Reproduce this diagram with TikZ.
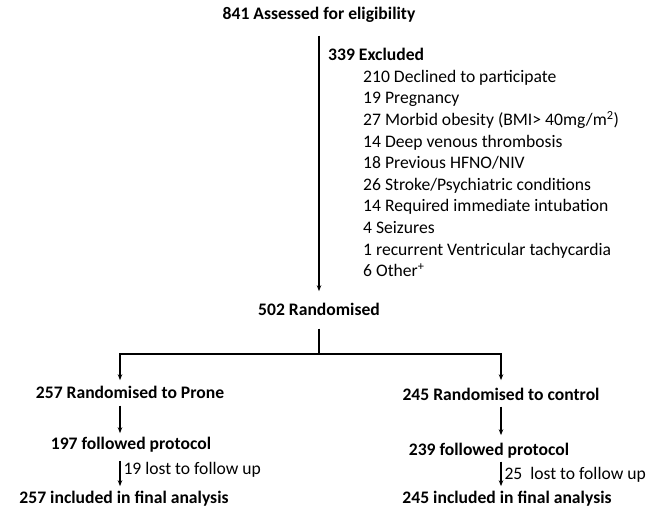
\documentclass[tikz,border=0pt]{standalone}
\usepackage{fontspec}
\setmainfont{Carlito}
\usetikzlibrary{arrows.meta, positioning}
\tikzset{
  txt/.style={inner sep=0pt, text height=12pt, text depth=4pt, font=\fontsize{17.6}{21}\selectfont},
  hd/.style={txt, font=\fontsize{17.6}{21}\selectfont\bfseries},
  arr/.style={line width=1.1pt, -{Stealth[length=6pt,width=4.5pt]}},
  ln/.style={line width=1.1pt},
}

\begin{document}
\begin{tikzpicture}[x=1pt, y=-1pt]
  \useasboundingbox (0,0) rectangle (661,511);
  \node[hd, anchor=mid] (assess) at (319,17) {841 Assessed for eligibility};
  \node[hd, anchor=mid west] (excl) at (328,58) {339 Excluded};
  \foreach \i/\t in {0/{210 Declined to participate}, 1/{19 Pregnancy},
      2/{27 Morbid obesity (BMI> 40mg/m\textsuperscript{2})}, 3/{14 Deep venous thrombosis},
      4/{18 Previous HFNO/NIV}, 5/{26 Stroke/Psychiatric conditions},
      6/{14 Required immediate intubation}, 7/{4 Seizures},
      8/{1 recurrent Ventricular tachycardia}, 9/{6 Other\textsuperscript{+}}}
    \node[txt, anchor=mid west] (ex\i) at (363,80+21.6*\i) {\t};
  \node[hd, anchor=mid] (rand) at (319,313) {502 Randomised};
  % arms
  \node[hd, anchor=mid] (prone) at (130,396) {257 Randomised to Prone};
  \node[hd, anchor=mid] (ctrl) at (501,398) {245 Randomised to control};
  \node[hd, anchor=mid] (protA) at (131,447) {197 followed protocol};
  \node[hd, anchor=mid] (protB) at (489,453) {239 followed protocol};
  \node[hd, anchor=mid] (finA) at (124,501) {257 included in final analysis};
  \node[hd, anchor=mid] (finB) at (507,501) {245 included in final analysis};
  \coordinate (split) at (319,354);
  % connectors
  \draw[arr, shorten <=12pt, shorten >=12pt] (assess.south) -- (rand.north);
  \draw[ln, shorten <=9pt] (rand.south) -- (split);
  \draw[arr, shorten >=6pt] (split) -| (prone.north -| 120,0);
  \draw[arr, shorten >=8pt] (split) -| (ctrl.north -| 501,0);
  \draw[arr, shorten <=3pt, shorten >=4pt] (prone.south -| 120,0) -- (protA.north -| 120,0);
  \draw[arr, shorten <=2pt, shorten >=8pt] (ctrl.south -| 501,0) -- (protB.north -| 501,0);
  \draw[arr, shorten <=7pt, shorten >=5pt] (protA.south -| 120,0) -- (finA.north -| 120,0)
    node[txt, midway, anchor=mid west, xshift=3pt] (lostA) {19 lost to follow up};
  \draw[arr, shorten <=2pt, shorten >=5pt] (protB.south -| 501,0) -- (finB.north -| 501,0)
    node[txt, midway, anchor=mid west, xshift=3pt, yshift=-2pt] (lostB) {25\ \ lost to follow up};
\end{tikzpicture}
\end{document}
